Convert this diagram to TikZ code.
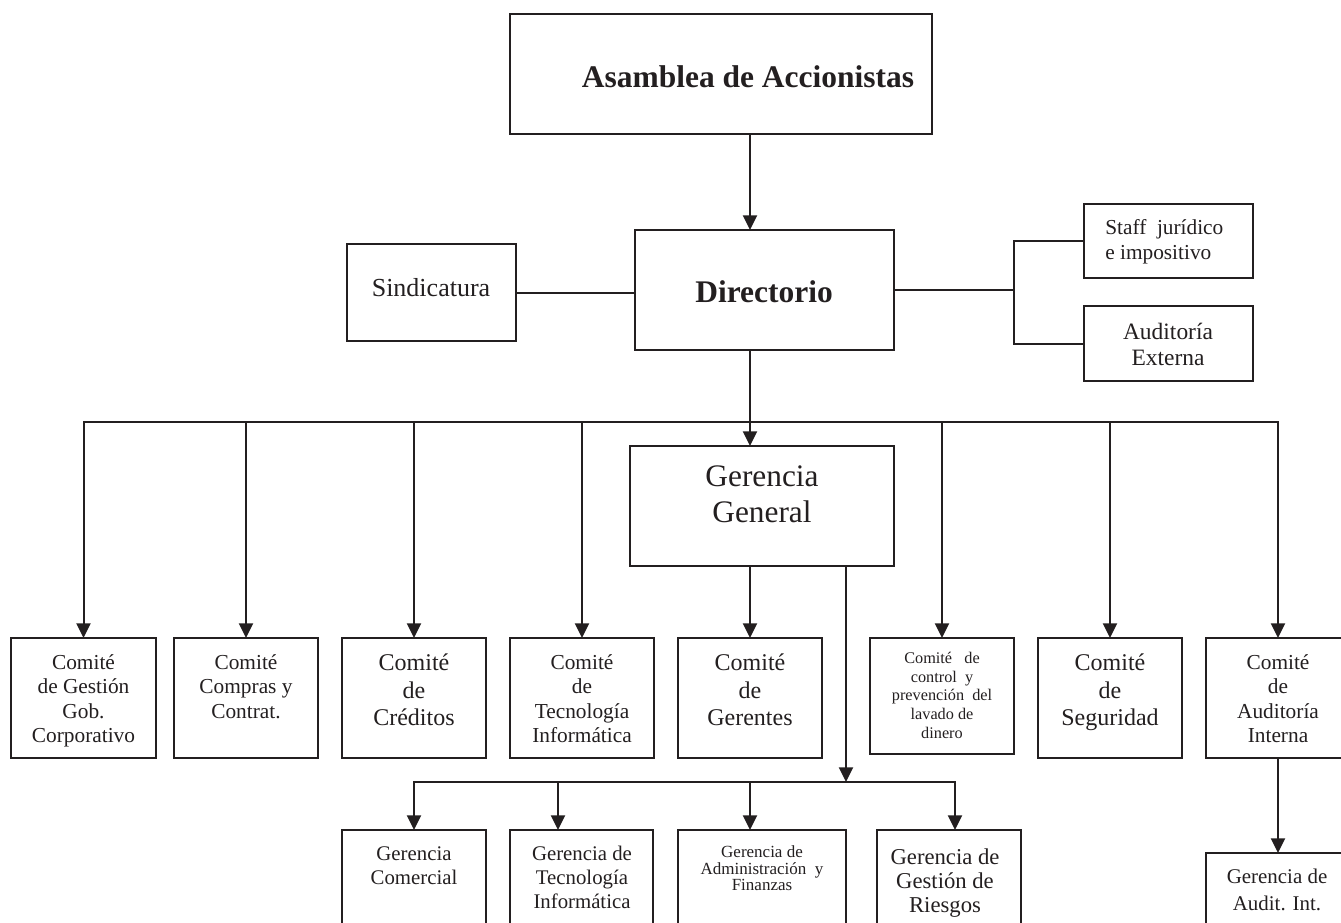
\documentclass[tikz,border=0pt]{standalone}
\usepackage{fontspec}
\setmainfont{Liberation Serif}
\usetikzlibrary{arrows.meta}
\definecolor{ink}{RGB}{35,31,32}
\begin{document}
\begin{tikzpicture}[x=0.75pt,y=-0.75pt,
  bx/.style n args={2}{draw=ink, line width=1.5pt, minimum width=#1*0.75pt, minimum height=#2*0.75pt, inner sep=0pt, outer sep=0pt},
  txt/.style={inner sep=0pt, align=center, text=ink},
  conn/.style={draw=ink, line width=1.5pt},
  arr/.style={conn, -{Triangle[length=11pt,width=10.5pt]}},
  ftA/.style={font=\fontsize{23.6pt}{27pt}\selectfont\bfseries},
  ftS/.style={font=\fontsize{19.5pt}{22pt}\selectfont},
  ftGG/.style={font=\fontsize{23.5pt}{27pt}\selectfont},
  ftC/.style={font=\fontsize{16pt}{18.4pt}\selectfont},
  ftCL/.style={font=\fontsize{18pt}{20.6pt}\selectfont},
  ftCS/.style={font=\fontsize{12.2pt}{14.2pt}\selectfont},
  ftG/.style={font=\fontsize{15.6pt}{18pt}\selectfont},
  ftGAF/.style={font=\fontsize{12.75pt}{12.5pt}\selectfont},
  ftGR/.style={font=\fontsize{17pt}{18pt}\selectfont},
  ftGAI/.style={font=\fontsize{15.7pt}{20pt}\selectfont},
  ftSt/.style={font=\fontsize{16pt}{18.75pt}\selectfont},
  ftAE/.style={font=\fontsize{17.6pt}{19.5pt}\selectfont},
]
\useasboundingbox (0,0) rectangle (1341,922);
\clip (0,0) rectangle (1341,922);
\fill[white] (0,0) rectangle (1341,922);

% boxes
\node[bx={422}{120}] (asam) at (721,74) {};
\node[bx={259}{120}] (dir) at (764.5,290) {};
\node[bx={169}{97}] (sind) at (431.5,292.5) {};
\node[bx={169}{74}] (staff) at (1168.5,241) {};
\node[bx={169}{75}] (audext) at (1168.5,343.5) {};
\node[bx={264}{120}] (gg) at (762,506) {};
\node[bx={145}{120}] (c1) at (83.5,698) {};
\node[bx={144}{120}] (c2) at (246,698) {};
\node[bx={144}{120}] (c3) at (414,698) {};
\node[bx={144}{120}] (c4) at (582,698) {};
\node[bx={144}{120}] (c5) at (750,698) {};
\node[bx={144}{116}] (c6) at (942,696) {};
\node[bx={144}{120}] (c7) at (1110,698) {};
\node[bx={144}{120}] (c8) at (1278,698) {};
\node[bx={144}{130}] (g1) at (414,895) {};
\node[bx={143}{130}] (g2) at (581.5,895) {};
\node[bx={168}{130}] (g3) at (762,895) {};
\node[bx={144}{130}] (g4) at (949,895) {};
\node[bx={145}{130}] (gai) at (1278,918) {};

% texts
\node[txt, ftA] (asam-t) at (748,77) {Asamblea de Accionistas};
\node[txt, ftA] (dir-t) at (764,292) {Directorio};
\node[txt, ftS] (sind-t) at (431,287.5) {Sindicatura};
\node[txt, ftSt, align=left, anchor=north west] (staff-t) at (1105,219.5) {Staff~ jurídico\\e impositivo};
\node[txt, ftAE, anchor=north] (audext-t) at (1168,323) {Auditoría\\Externa};
\node[txt, ftGG, anchor=north] (gg-t) at (762,465) {Gerencia\\General};
\node[txt, ftC, anchor=north] (c1-t) at (83.5,654) {Comité\\de Gestión\\Gob.\\Corporativo};
\node[txt, ftC, anchor=north] (c2-t) at (246,654) {Comité\\Compras y\\Contrat.};
\node[txt, ftCL, anchor=north] (c3-t) at (414,654) {Comité\\de\\Créditos};
\node[txt, ftC, anchor=north] (c4-t) at (582,654) {Comité\\de\\Tecnología\\Informática};
\node[txt, ftCL, anchor=north] (c5-t) at (750,654) {Comité\\de\\Gerentes};
\node[txt, ftCS, anchor=north] (c6-t) at (942,651.5) {Comité~~ de\\control~ y\\prevención~ del\\lavado de\\dinero};
\node[txt, ftCL, anchor=north] (c7-t) at (1110,654) {Comité\\de\\Seguridad};
\node[txt, ftC, anchor=north] (c8-t) at (1278,654) {Comité\\de\\Auditoría\\Interna};
\node[txt, ftG, anchor=north] (g1-t) at (414,846) {Gerencia\\Comercial};
\node[txt, ftG, anchor=north] (g2-t) at (582,846) {Gerencia de\\Tecnología\\Informática};
\node[txt, ftGAF, anchor=north] (g3-t) at (762,845.5) {Gerencia de\\Administración~ y\\Finanzas};
\node[txt, ftGR, anchor=north] (g4-t) at (945,848) {Gerencia de\\Gestión de\\Riesgos};
\node[txt, ftGAI, anchor=north] (gai-t) at (1277,869) {Gerencia de\\Audit. Int.};

% helper coordinates
\coordinate (colA) at (750,0);
\coordinate (colB) at (846,0);
\coordinate (br) at (1014,0);
\coordinate (bus) at (0,422);
\coordinate (bus2) at (0,782);
\coordinate (g2x) at (558,0);
\coordinate (g4x) at (955,0);

% connectors
\draw[arr] (asam.south -| colA) -- (dir.north -| colA);
\draw[conn] (sind.east) -- (sind.east -| dir.west);
\draw[conn] (dir.east) -- (dir.east -| br);
\draw[conn] (staff.west) -- (staff.west -| br) -- (audext.west -| br) -- (audext.west);
\draw[arr] (dir.south -| colA) -- (gg.north -| colA);
\draw[conn, line cap=rect] (c1.north |- bus) -- (c8.north |- bus);
\foreach \n in {c1,c2,c3,c4,c6,c7,c8} \draw[arr] (\n.north |- bus) -- (\n.north);
\draw[arr] (gg.south -| colA) -- (c5.north);
\draw[arr] (gg.south -| colB) -- (colB |- bus2);
\draw[conn, line cap=rect] (g1.north |- bus2) -- (g4x |- bus2);
\draw[arr] (g1.north |- bus2) -- (g1.north);
\draw[arr] (g2x |- bus2) -- (g2.north -| g2x);
\draw[arr] (colA |- bus2) -- (g3.north -| colA);
\draw[arr] (g4x |- bus2) -- (g4.north -| g4x);
\draw[arr] (c8.south) -- (gai.north);
\end{tikzpicture}
\end{document}
